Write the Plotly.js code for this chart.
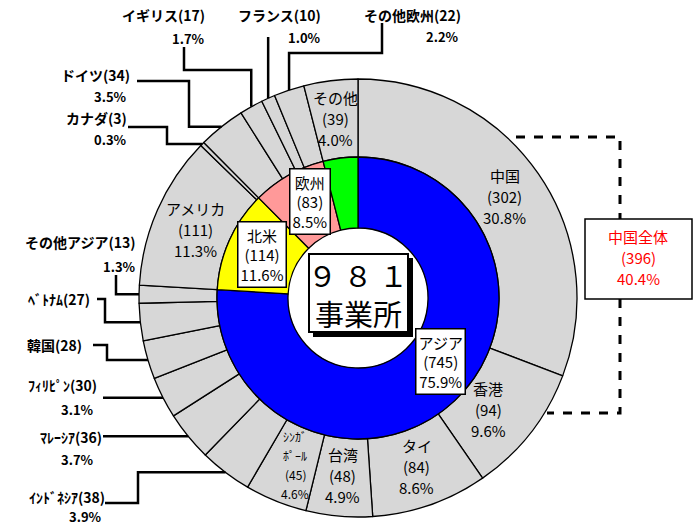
<!DOCTYPE html>
<html>
<head>
<meta charset="utf-8">
<script src="https://cdn.plot.ly/plotly-3.0.1.min.js"></script>
<style>
  html, body { margin: 0; padding: 0; background: #fff; }
  #chart { width: 698px; height: 530px; }
</style>
</head>
<body>
<div id="chart"></div>
<script>
// Offices by region (inner ring) and by country (outer ring), clockwise from 12 o'clock.
const innerLabels = ["アジア", "北米", "欧州", "その他"];
const innerValues = [745, 114, 83, 39];
const innerPct = ["75.9%", "11.6%", "8.5%", "4.0%"];

const outerLabels = ["中国", "香港", "タイ", "台湾", "ｼﾝｶﾞ<br>ﾎﾟｰﾙ", "ｲﾝﾄﾞﾈｼｱ", "ﾏﾚｰｼｱ", "ﾌｨﾘﾋﾟﾝ",
  "韓国", "ﾍﾞﾄﾅﾑ", "その他アジア", "アメリカ", "カナダ", "ドイツ", "イギリス", "フランス", "その他欧州", "その他"];
const outerValues = [302, 94, 84, 48, 45, 38, 36, 30, 28, 27, 13, 111, 3, 34, 17, 10, 22, 39];
const outerPct = ["30.8%", "9.6%", "8.6%", "4.9%", "4.6%", "3.9%", "3.7%", "3.1%", "", "", "1.3%",
  "11.3%", "0.3%", "3.5%", "1.7%", "1.0%", "2.2%", "4.0%"];

const chinaLabel = "中国全体";
const chinaCount = 396;
const chinaPct = "40.4%";
const centerText = ["９ ８ １", "事業所"];

const INNER_COLORS = ["#0000FF", "#FFFF00", "#FF9999", "#00FF00"];
const OUTER_GRAY = "#D7D7D7";
const FONT = "Noto Sans CJK JP, sans-serif";

// geometry in page pixels
const W = 698, H = 530;
const CX = 358, CY = 298, R_OUT = 219, R_IN = 141, R_HOLE = 70;
const px = x => x / W;
const py = y => 1 - y / H;

function slicePoint(values, i, r) {
  const total = values.reduce((a, b) => a + b, 0);
  const before = values.slice(0, i).reduce((a, b) => a + b, 0);
  const th = (before + values[i] / 2) / total * 2 * Math.PI;
  return [CX + r * Math.sin(th), CY - r * Math.cos(th)];
}

// labels drawn inside the outer ring (with small nudges), and boxed labels on the inner ring
const OUTER_INSIDE = { 0: [0, 0], 1: [-10, 2], 2: [0, 0], 3: [0, 0], 4: [4, 2], 11: [0, 3], 17: [0, -3] };
const INNER_BOXED = { 0: [10, -13], 1: [0, 0], 2: [4, -5] };

// outside labels: name/pct anchors (right aligned) and leader waypoints; null = follow slice end
const OUTSIDE = [
  { i: 14, name: [207, 15], pct: [207, 39], path: [[184, 47], [184, 70], [null, 70]] },
  { i: 15, name: [323, 15], pct: [323, 38], path: [[null, 37]] },
  { i: 16, name: [463, 15], pct: [461, 37], path: [[382, 23], [382, 53], [null, 53]] },
  { i: 13, name: [132, 75], pct: [129, 97], path: [[137, 81], [189, 81], [189, null]] },
  { i: 12, name: [129, 118], pct: [129, 140], path: [[128, 127], [167, 127], [167, null]] },
  { i: 10, name: [138, 242], pct: [138, 266], path: [[116, 275], [116, null]] },
  { i: 9, name: [92, 299], pct: null, path: [[97, 299], [105, 299], [105, null]] },
  { i: 8, name: [84, 345], pct: null, path: [[93, 345], [107, 345], [107, null]] },
  { i: 7, name: [99, 385], pct: [96, 409], path: [[103, null]] },
  { i: 6, name: [104, 437], pct: [96, 459], path: [[103, null]] },
  { i: 5, name: [107, 497], pct: [104, 516], path: [[105, 503], [138, 503], [138, null]] },
];

const traces = [
  {
    type: "pie", values: outerValues, labels: outerLabels, sort: false, direction: "clockwise",
    hole: R_IN / R_OUT, textinfo: "none", hoverinfo: "none", showlegend: false,
    marker: { colors: outerValues.map(() => OUTER_GRAY), line: { color: "#000", width: 1.3 } },
    domain: { x: [px(CX - R_OUT), px(CX + R_OUT)], y: [py(CY + R_OUT), py(CY - R_OUT)] },
  },
  {
    type: "pie", values: innerValues, labels: innerLabels, sort: false, direction: "clockwise",
    hole: R_HOLE / R_IN, textinfo: "none", hoverinfo: "none", showlegend: false,
    marker: { colors: INNER_COLORS, line: { color: "#000", width: 1.3 } },
    domain: { x: [px(CX - R_IN), px(CX + R_IN)], y: [py(CY + R_IN), py(CY - R_IN)] },
  },
];

const annotations = [];
const shapes = [];

function text(x, y, t, opts) {
  annotations.push(Object.assign({
    x: px(x), y: py(y), xref: "paper", yref: "paper", text: t, showarrow: false,
    xanchor: "center", yanchor: "middle",
    font: { family: FONT, size: 14, color: "#000" },
  }, opts || {}));
}

// stacked lines as separate texts, so the line pitch can follow the reference
function lines(x, y, list, pitch, font) {
  const top = y - pitch * (list.length - 1) / 2;
  list.forEach((t, k) => text(x, top + k * pitch, t, { font }));
}

// outer ring inside labels
Object.entries(OUTER_INSIDE).forEach(([k, d]) => {
  const i = +k;
  const [x, y] = slicePoint(outerValues, i, 178);
  const rows = [...outerLabels[i].split("<br>"), `(${outerValues[i]})`, outerPct[i]];
  const small = rows.length > 3;
  lines(x + d[0], y + d[1], rows, small ? 19 : 21,
    { family: FONT, size: small ? 12 : 15, color: "#000" });
});

// inner ring boxed labels
Object.entries(INNER_BOXED).forEach(([k, d]) => {
  const i = +k;
  const [x, y] = slicePoint(innerValues, i, 105);
  text(x + d[0], y + d[1], `${innerLabels[i]}<br>(${innerValues[i]})<br>${innerPct[i]}`, {
    font: { family: FONT, size: 15, color: "#000" },
    bgcolor: "#fff", bordercolor: "#000", borderwidth: 1.5, borderpad: 2,
  });
});

// outside labels with leader lines
OUTSIDE.forEach(o => {
  const end = slicePoint(outerValues, o.i, R_OUT);
  text(o.name[0], o.name[1], `<b>${outerLabels[o.i]}(${outerValues[o.i]})</b>`,
    { xanchor: "right", font: { family: FONT, size: 14, color: "#000" } });
  if (o.pct && outerPct[o.i]) {
    text(o.pct[0], o.pct[1], `<b>${outerPct[o.i]}</b>`,
      { xanchor: "right", font: { family: FONT, size: 13, color: "#000" } });
  }
  const pts = o.path.map(p => [p[0] === null ? end[0] : p[0], p[1] === null ? end[1] : p[1]]);
  pts.push(end);
  const d = pts.map((p, k) => `${k ? "L" : "M"} ${px(p[0])} ${py(p[1])}`).join(" ");
  shapes.push({ type: "path", xref: "paper", yref: "paper", path: d, line: { color: "#000", width: 2.5 } });
});

// centre box with drop shadow
shapes.push({ type: "rect", xref: "paper", yref: "paper", x0: px(313), x1: px(413), y0: py(337), y1: py(258),
  fillcolor: "#000", line: { width: 0 } });
shapes.push({ type: "rect", xref: "paper", yref: "paper", x0: px(309), x1: px(408), y0: py(332), y1: py(254),
  fillcolor: "#fff", line: { color: "#000", width: 2 } });
lines(358, 293, centerText, 39, { family: FONT, size: 29, color: "#000" });

// China total box with dashed bracket
const dash = [[516, 137], [620, 137], [620, 219]];
const dash2 = [[620, 299], [620, 413], [547, 413]];
[dash, dash2].forEach(seg => {
  shapes.push({ type: "path", xref: "paper", yref: "paper",
    path: seg.map((p, k) => `${k ? "L" : "M"} ${px(p[0])} ${py(p[1])}`).join(" "),
    line: { color: "#000", width: 3, dash: "dash" } });
});
shapes.push({ type: "rect", xref: "paper", yref: "paper", x0: px(585), x1: px(692), y0: py(299), y1: py(219),
  fillcolor: "#fff", line: { color: "#000", width: 1.5 } });
lines(638, 257, [chinaLabel, `(${chinaCount})`, chinaPct], 21, { family: FONT, size: 15, color: "#FF0000" });

Plotly.newPlot("chart", traces, {
  width: W, height: H, margin: { l: 0, r: 0, t: 0, b: 0 },
  paper_bgcolor: "#fff", plot_bgcolor: "#fff", showlegend: false,
  annotations, shapes,
}, { staticPlot: true, displayModeBar: false });
</script>
</body>
</html>
